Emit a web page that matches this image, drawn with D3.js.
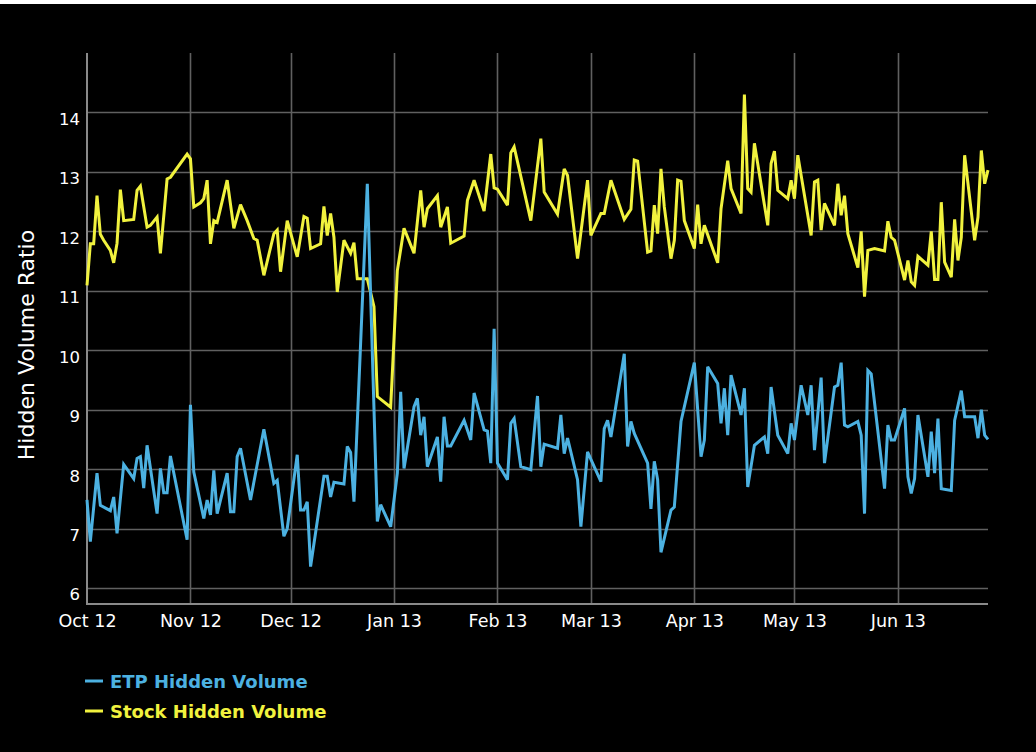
<!DOCTYPE html>
<html>
<head>
<meta charset="utf-8">
<script src="https://cdn.jsdelivr.net/npm/d3@7"></script>
<style>
  html, body { margin: 0; padding: 0; background: #ffffff; }
  svg { display: block; }
  text { font-family: "DejaVu Sans", Verdana, sans-serif; }
</style>
</head>
<body>
<script>
// ---------- DATA ----------
const etpDates = [
"2012-10-01","2012-10-02","2012-10-04","2012-10-05","2012-10-08","2012-10-09","2012-10-10","2012-10-12",
"2012-10-15","2012-10-16","2012-10-17","2012-10-18","2012-10-19","2012-10-22","2012-10-23","2012-10-24",
"2012-10-25","2012-10-26","2012-10-31","2012-11-01","2012-11-02","2012-11-05","2012-11-06","2012-11-07",
"2012-11-08","2012-11-09","2012-11-12","2012-11-13","2012-11-14","2012-11-15","2012-11-16","2012-11-19",
"2012-11-23","2012-11-26","2012-11-27","2012-11-29","2012-11-30","2012-12-03","2012-12-04","2012-12-05",
"2012-12-06","2012-12-07","2012-12-11","2012-12-12","2012-12-13","2012-12-14","2012-12-17","2012-12-18",
"2012-12-19","2012-12-20","2012-12-24","2012-12-27","2012-12-28","2012-12-31","2013-01-02","2013-01-03",
"2013-01-04","2013-01-07","2013-01-08","2013-01-09","2013-01-10","2013-01-11","2013-01-14","2013-01-15",
"2013-01-16","2013-01-17","2013-01-18","2013-01-22","2013-01-24","2013-01-25","2013-01-28","2013-01-29",
"2013-01-30","2013-01-31","2013-02-01","2013-02-04","2013-02-05","2013-02-06","2013-02-08","2013-02-11",
"2013-02-13","2013-02-14","2013-02-15","2013-02-19","2013-02-20","2013-02-21","2013-02-22","2013-02-25",
"2013-02-26","2013-02-28","2013-03-04","2013-03-05","2013-03-06","2013-03-07","2013-03-11","2013-03-12",
"2013-03-13","2013-03-14","2013-03-18","2013-03-19","2013-03-20","2013-03-21","2013-03-22","2013-03-25",
"2013-03-26","2013-03-28","2013-04-01","2013-04-03","2013-04-04","2013-04-05","2013-04-08","2013-04-09",
"2013-04-10","2013-04-11","2013-04-12","2013-04-15","2013-04-16","2013-04-17","2013-04-19","2013-04-22",
"2013-04-23","2013-04-24","2013-04-26","2013-04-29","2013-04-30","2013-05-01","2013-05-03","2013-05-05",
"2013-05-06","2013-05-07","2013-05-09","2013-05-10","2013-05-13","2013-05-14","2013-05-15","2013-05-16",
"2013-05-17","2013-05-20","2013-05-21","2013-05-22","2013-05-23","2013-05-24","2013-05-28","2013-05-29",
"2013-05-30","2013-05-31","2013-06-03","2013-06-04","2013-06-05","2013-06-06","2013-06-07","2013-06-10",
"2013-06-11","2013-06-12","2013-06-13","2013-06-14","2013-06-17","2013-06-18","2013-06-20","2013-06-21",
"2013-06-24","2013-06-25","2013-06-26","2013-06-27","2013-06-28"
];
const etpValues = [
7.48,6.78,7.93,7.39,7.30,7.53,6.92,8.08,
7.84,8.18,8.21,7.68,8.40,7.25,8.01,7.60,
7.60,8.22,6.81,9.08,7.95,7.17,7.48,7.23,
7.98,7.25,7.93,7.28,7.28,8.21,8.35,7.48,
8.67,7.76,7.81,6.87,7.00,8.24,7.31,7.31,
7.45,6.36,7.88,7.88,7.53,7.78,7.75,8.38,
8.28,7.45,12.80,7.12,7.40,7.03,7.93,9.30,
8.01,9.05,9.19,8.57,8.88,8.04,8.54,7.79,
8.88,8.39,8.39,8.82,8.49,9.28,8.66,8.64,
8.10,10.36,8.10,7.82,8.77,8.85,8.04,7.99,
9.23,8.04,8.42,8.35,8.91,8.26,8.52,7.82,
7.03,8.29,7.79,8.68,8.82,8.54,9.94,8.38,
8.80,8.60,8.10,7.33,8.13,7.82,6.60,7.31,
7.36,8.80,9.79,8.21,8.49,9.72,9.44,8.77,
9.36,8.57,9.58,8.91,9.36,7.70,8.40,8.54,
8.26,9.38,8.57,8.26,8.77,8.49,9.41,8.91,
9.41,8.32,9.54,8.10,9.38,9.41,9.79,8.74,
8.71,8.80,8.57,7.25,9.66,9.60,7.67,8.74,
8.49,8.49,9.02,7.87,7.59,7.84,8.91,7.87,
8.63,7.93,8.85,7.67,7.64,8.82,9.32,8.88,
8.88,8.52,9.00,8.57,8.50
];

const stockDates = [
"2012-10-01","2012-10-02","2012-10-03","2012-10-04","2012-10-05","2012-10-06","2012-10-08","2012-10-09",
"2012-10-10","2012-10-11","2012-10-12","2012-10-15","2012-10-16","2012-10-17","2012-10-19","2012-10-20",
"2012-10-22","2012-10-23","2012-10-25","2012-10-26","2012-10-31","2012-11-01","2012-11-02","2012-11-04",
"2012-11-05","2012-11-06","2012-11-07","2012-11-08","2012-11-09","2012-11-12","2012-11-14","2012-11-16",
"2012-11-18","2012-11-20","2012-11-21","2012-11-23","2012-11-26","2012-11-27","2012-11-28","2012-11-30",
"2012-12-03","2012-12-05","2012-12-06","2012-12-07","2012-12-10","2012-12-11","2012-12-12","2012-12-13",
"2012-12-14","2012-12-15","2012-12-17","2012-12-19","2012-12-20","2012-12-21","2012-12-24","2012-12-26",
"2012-12-27","2012-12-31","2013-01-02","2013-01-04","2013-01-07","2013-01-09","2013-01-10","2013-01-11",
"2013-01-14","2013-01-15","2013-01-17","2013-01-18","2013-01-22","2013-01-23","2013-01-25","2013-01-28",
"2013-01-30","2013-01-31","2013-02-01","2013-02-04","2013-02-05","2013-02-06","2013-02-11","2013-02-14",
"2013-02-15","2013-02-19","2013-02-21","2013-02-22","2013-02-25","2013-02-28","2013-03-01","2013-03-04",
"2013-03-05","2013-03-07","2013-03-11","2013-03-13","2013-03-14","2013-03-15","2013-03-18","2013-03-19",
"2013-03-20","2013-03-21","2013-03-22","2013-03-23","2013-03-25","2013-03-26","2013-03-27","2013-03-28",
"2013-03-29","2013-04-01","2013-04-02","2013-04-03","2013-04-04","2013-04-08","2013-04-09","2013-04-11",
"2013-04-12","2013-04-15","2013-04-16","2013-04-17","2013-04-18","2013-04-19","2013-04-23","2013-04-24",
"2013-04-25","2013-04-26","2013-04-29","2013-04-30","2013-05-01","2013-05-02","2013-05-06","2013-05-07",
"2013-05-08","2013-05-09","2013-05-10","2013-05-13","2013-05-14","2013-05-15","2013-05-16","2013-05-17",
"2013-05-20","2013-05-21","2013-05-22","2013-05-23","2013-05-25","2013-05-28","2013-05-29","2013-05-30",
"2013-05-31","2013-06-03","2013-06-04","2013-06-05","2013-06-06","2013-06-07","2013-06-10","2013-06-11",
"2013-06-12","2013-06-13","2013-06-14","2013-06-15","2013-06-17","2013-06-18","2013-06-19","2013-06-20",
"2013-06-21","2013-06-24","2013-06-25","2013-06-26","2013-06-27","2013-06-28"
];
const stockValues = [
11.09,11.79,11.79,12.60,11.95,11.85,11.68,11.47,
11.80,12.70,12.18,12.20,12.69,12.76,12.07,12.10,
12.24,11.63,12.88,12.91,13.30,13.22,12.41,12.48,
12.55,12.86,11.79,12.18,12.15,12.86,12.05,12.45,
12.18,11.88,11.85,11.26,11.96,12.02,11.32,12.18,
11.57,12.25,12.22,11.71,11.79,12.42,11.93,12.30,
11.90,10.98,11.85,11.63,11.81,11.20,11.20,10.73,
9.22,9.04,11.34,12.05,11.63,12.69,12.07,12.38,
12.60,12.07,12.41,11.80,11.92,12.52,12.86,12.34,
13.30,12.73,12.71,12.44,13.32,13.42,12.18,13.56,
12.66,12.29,13.05,12.94,11.54,12.86,11.93,12.30,
12.30,12.86,12.20,12.37,13.20,13.18,11.65,11.67,
12.44,11.96,13.05,12.41,11.54,11.85,12.86,12.84,
12.18,11.71,12.45,11.79,12.10,11.47,12.38,13.19,
12.72,12.30,14.30,12.72,12.66,13.48,12.10,13.14,
13.35,12.69,12.55,12.86,12.55,13.28,11.93,12.83,
12.86,12.02,12.47,12.10,12.80,12.27,12.60,11.96,
11.39,12.00,10.90,11.68,11.71,11.67,12.17,11.90,
11.85,11.18,11.51,11.15,11.09,11.58,11.43,12.00,
11.19,11.19,12.49,11.48,11.23,12.20,11.51,11.90,
13.28,11.85,12.24,13.36,12.80,13.03
];

const yTicks = [6, 7, 8, 9, 10, 11, 12, 13, 14];
const seriesNames = ["ETP Hidden Volume", "Stock Hidden Volume"];
const seriesColors = ["#4cb1e1", "#f1f23e"];
const yTitle = "Hidden Volume Ratio";

// ---------- LAYOUT ----------
const W = 1036, H = 752;
const plotL = 87, plotR = 988, plotT = 53, plotB = 604;
const parse = d3.timeParse("%Y-%m-%d");

const svg = d3.select("body").append("svg").attr("width", W).attr("height", H);
svg.append("rect").attr("x", 0).attr("y", 0).attr("width", W).attr("height", H).attr("fill", "#ffffff");
svg.append("rect").attr("x", 0).attr("y", 4).attr("width", W).attr("height", H - 4).attr("fill", "#000000");

const x = d3.scaleTime()
  .domain([parse("2012-10-01"), parse("2013-06-28")])
  .range([plotL, plotR]);
const y = d3.scaleLinear().domain([5.73, 15]).range([plotB, plotT]);

const monthTicks = d3.timeMonth.range(parse("2012-10-01"), parse("2013-06-02"));

// grid
const grid = svg.append("g");
grid.selectAll("line.h").data(yTicks).join("line")
  .attr("x1", plotL).attr("x2", plotR)
  .attr("y1", d => Math.round(y(d)) + 0.5).attr("y2", d => Math.round(y(d)) + 0.5)
  .attr("stroke", "#606060").attr("stroke-width", 1.6);
grid.selectAll("line.v").data(monthTicks.slice(1)).join("line")
  .attr("x1", d => Math.round(x(d)) + 0.5).attr("x2", d => Math.round(x(d)) + 0.5)
  .attr("y1", plotT).attr("y2", plotB)
  .attr("stroke", "#606060").attr("stroke-width", 1.6);

// axes lines
svg.append("line").attr("x1", plotL).attr("x2", plotL).attr("y1", plotT).attr("y2", plotB + 1)
  .attr("stroke", "#8a8a8a").attr("stroke-width", 2);
svg.append("line").attr("x1", plotL).attr("x2", plotR).attr("y1", plotB).attr("y2", plotB)
  .attr("stroke", "#8a8a8a").attr("stroke-width", 2);

// y axis
const yAxis = d3.axisLeft(y).tickValues(yTicks).tickSize(0).tickPadding(7).tickFormat(d3.format("d"));
const gy = svg.append("g").attr("transform", `translate(${plotL},0)`).call(yAxis);
gy.select(".domain").remove();
gy.selectAll("text").attr("fill", "#ffffff").style("font-size", "16.5px")
  .style("font-family", "'DejaVu Sans', Verdana, sans-serif").attr("dy", "0").attr("y", 12);

// x axis
const xAxis = d3.axisBottom(x).tickValues(monthTicks).tickSize(0).tickPadding(11)
  .tickFormat(d3.timeFormat("%b %y"));
const gx = svg.append("g").attr("transform", `translate(0,${plotB})`).call(xAxis);
gx.select(".domain").remove();
gx.selectAll("text").attr("fill", "#ffffff").style("font-size", "17.5px")
  .style("font-family", "'DejaVu Sans', Verdana, sans-serif");

// y title
svg.append("text")
  .attr("transform", "translate(34,345) rotate(-90)")
  .attr("text-anchor", "middle")
  .attr("fill", "#ffffff").style("font-size", "22px")
  .text(yTitle);

// lines
const line = d3.line().x(d => x(d.date)).y(d => y(d.value));
const series = [
  { name: seriesNames[1], color: seriesColors[1], data: stockDates.map((d, i) => ({ date: parse(d), value: stockValues[i] })) },
  { name: seriesNames[0], color: seriesColors[0], data: etpDates.map((d, i) => ({ date: parse(d), value: etpValues[i] })) }
];
const plot = svg.append("g");
plot.selectAll("path").data(series).join("path")
  .attr("d", d => line(d.data))
  .attr("fill", "none").attr("stroke", d => d.color)
  .attr("stroke-width", 3).attr("stroke-linejoin", "miter").attr("stroke-miterlimit", 3);

// legend
const legend = svg.append("g").selectAll("g").data(seriesNames).join("g")
  .attr("transform", (d, i) => `translate(85,${681 + i * 30})`);
legend.append("line").attr("x1", 0).attr("x2", 18).attr("y1", 0).attr("y2", 0)
  .attr("stroke", (d, i) => seriesColors[i]).attr("stroke-width", 3);
legend.append("text").attr("x", 25).attr("y", 6.5)
  .attr("fill", (d, i) => seriesColors[i])
  .style("font-size", "18px").style("font-weight", "bold")
  .text(d => d);
</script>
</body>
</html>
